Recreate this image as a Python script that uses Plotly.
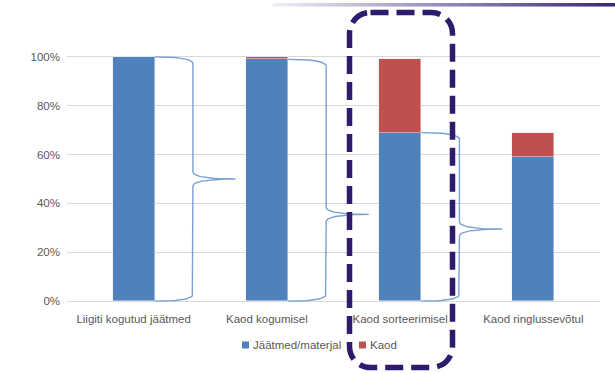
import plotly.graph_objects as go

# Stage labels and shares (% of separately collected waste)
categories = ["Liigiti kogutud jäätmed", "Kaod kogumisel", "Kaod sorteerimisel", "Kaod ringlussevõtul"]
material = [100, 99, 69, 59]
losses = [0, 1, 30, 10]
y_ticks = [0, 20, 40, 60, 80, 100]
y_tick_labels = ["0%", "20%", "40%", "60%", "80%", "100%"]

# Braces linking each stage to the next: (from stage, bottom %, top %, tip %)
braces = [
    (0, 0, 100, 50),
    (1, 0, 99, 35.5),
    (2, 0, 69, 29.5),
]

BLUE = "#4F81BD"
RED = "#C0504D"
BRACE = "#7BA0D2"
BOX = "#2F1B6B"
TEXT = "#595959"
FONT = "Liberation Sans"

W, H = 615, 374
ML, MR, MT, MB = 67, 15, 52, 68
BAR_W = 0.315
X_RANGE = [-0.5, 3.5]
Y_RANGE = [-2, 102]

x_pos = list(range(len(categories)))

fig = go.Figure()
fig.add_trace(go.Bar(x=x_pos, y=material, name="Jäätmed/materjal", marker_color=BLUE,
                     width=BAR_W, hoverinfo="skip"))
fig.add_trace(go.Bar(x=x_pos, y=losses, name="Kaod", marker_color=RED,
                     width=BAR_W, hoverinfo="skip"))


def quad(p0, c, p1, n=16):
    pts = []
    for i in range(n + 1):
        t = i / n
        x = (1 - t) ** 2 * p0[0] + 2 * (1 - t) * t * c[0] + t ** 2 * p1[0]
        y = (1 - t) ** 2 * p0[1] + 2 * (1 - t) * t * c[1] + t ** 2 * p1[1]
        pts.append((x, y))
    return pts


def brace_points(i, y0, y1, yc):
    x0 = i + BAR_W / 2
    xv = i + 0.445
    xt = i + 0.765
    de, dc = 2.8, 3.0
    pts = []
    pts += quad((x0, y1), (xv, y1), (xv, y1 - de))
    pts += [(xv, yc + dc)]
    pts += quad((xv, yc + dc), (xv, yc), (xt, yc))
    pts += quad((xt, yc), (xv, yc), (xv, yc - dc))
    pts += [(xv, y0 + de)]
    pts += quad((xv, y0 + de), (xv, y0), (x0, y0))
    return pts


for i, y0, y1, yc in braces:
    pts = brace_points(i, y0, y1, yc)
    fig.add_trace(go.Scatter(x=[p[0] for p in pts], y=[p[1] for p in pts], mode="lines",
                             line=dict(color=BRACE, width=1.4), showlegend=False,
                             hoverinfo="skip", cliponaxis=False))

# pixel -> paper helpers for decorations
PW = W - ML - MR
PH = H - MT - MB


def px(x):
    return (x - ML) / PW


def py(y):
    return (H - MB - y) / PH


shapes = []

# dashed rounded frame around the sorting stage
l, r, t, b, rad = 349.5, 452.5, 12.5, 367.5, 21
k = 0.5523 * rad
path = (
    f"M {px(l + rad)},{py(t)} L {px(r - rad)},{py(t)} "
    f"C {px(r - rad + k)},{py(t)} {px(r)},{py(t + rad - k)} {px(r)},{py(t + rad)} "
    f"L {px(r)},{py(b - rad)} "
    f"C {px(r)},{py(b - rad + k)} {px(r - rad + k)},{py(b)} {px(r - rad)},{py(b)} "
    f"L {px(l + rad)},{py(b)} "
    f"C {px(l + rad - k)},{py(b)} {px(l)},{py(b - rad + k)} {px(l)},{py(b - rad)} "
    f"L {px(l)},{py(t + rad)} "
    f"C {px(l)},{py(t + rad - k)} {px(l + rad - k)},{py(t)} {px(l + rad)},{py(t)} Z"
)
shapes.append(dict(type="path", xref="paper", yref="paper", path=path,
                   line=dict(color=BOX, width=5.5, dash="18px,8px"), layer="above"))

# thin gradient rule along the top edge
c0 = (0xEE, 0xED, 0xF5)
c1 = (0x3B, 0x27, 0x77)
gx0, gx1, gy0, gy1 = 273, 615, 3, 6.5
n = 90
for s in range(n):
    f = s / (n - 1)
    col = "rgb({},{},{})".format(*[round(a + (bb - a) * f) for a, bb in zip(c0, c1)])
    xa = gx0 + (gx1 - gx0) * s / n
    xb = gx0 + (gx1 - gx0) * (s + 1) / n + 0.6
    shapes.append(dict(type="rect", xref="paper", yref="paper", x0=px(xa), x1=px(xb),
                       y0=py(gy1), y1=py(gy0), fillcolor=col, line=dict(width=0)))

# legend
annotations = []
legend_items = [("Jäätmed/materjal", BLUE, 242), ("Kaod", RED, 359)]
ly = 345
for label, col, lx in legend_items:
    shapes.append(dict(type="rect", xref="paper", yref="paper", x0=px(lx), x1=px(lx + 7),
                       y0=py(ly + 3.5), y1=py(ly - 3.5), fillcolor=col, line=dict(width=0)))
    annotations.append(dict(text=label, xref="paper", yref="paper", x=px(lx + 9), y=py(ly),
                            xanchor="left", yanchor="middle", showarrow=False,
                            font=dict(family=FONT, size=11.5, color=TEXT)))

fig.update_layout(
    width=W, height=H,
    margin=dict(l=ML, r=MR, t=MT, b=MB),
    barmode="stack",
    bargap=0,
    showlegend=False,
    paper_bgcolor="white",
    plot_bgcolor="white",
    shapes=shapes,
    annotations=annotations,
    font=dict(family=FONT, size=11.5, color=TEXT),
    xaxis=dict(range=X_RANGE, tickvals=x_pos, ticktext=categories, showgrid=False,
               zeroline=False, showline=False, ticks="", fixedrange=True,
               ticklabelstandoff=4,
               tickfont=dict(family=FONT, size=11.5, color=TEXT)),
    yaxis=dict(range=Y_RANGE, tickvals=y_ticks, ticktext=y_tick_labels, showgrid=True,
               gridcolor="#D9D9D9", gridwidth=1, zeroline=False, showline=False,
               ticks="", fixedrange=True, ticklabelstandoff=6,
               tickfont=dict(family=FONT, size=11.5, color=TEXT)),
)

fig.write_html("out.html")
